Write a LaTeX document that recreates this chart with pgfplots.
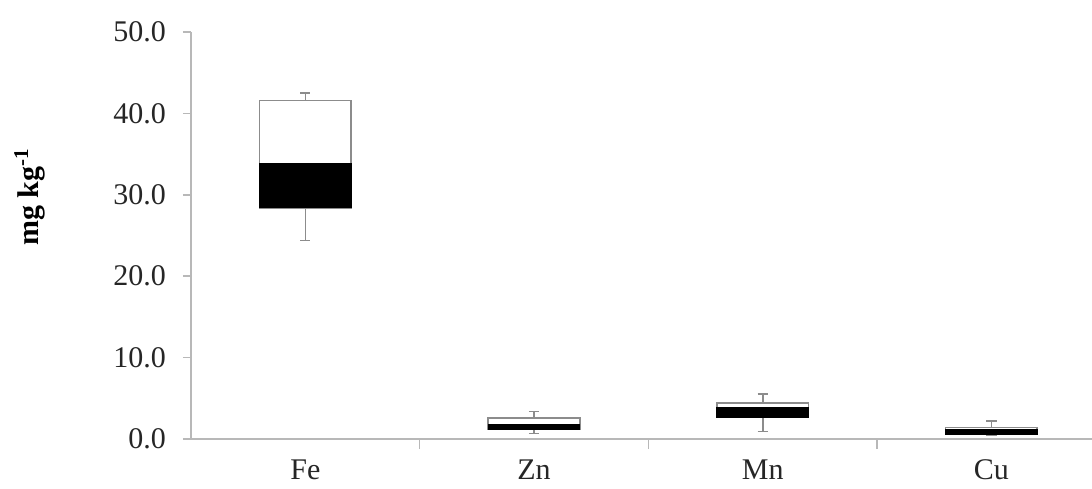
\documentclass[border=0pt]{standalone}
\usepackage{fontspec}
\setmainfont{Liberation Serif}
\usepackage{pgfplots}
\pgfplotsset{compat=1.18}
\usepgfplotslibrary{statistics}
\definecolor{axgray}{gray}{0.72}
\definecolor{boxgray}{gray}{0.55}
\begin{document}
\begin{tikzpicture}
\begin{axis}[
  scale only axis, width=450.5pt, height=203.5pt,
  xmin=-0.5, xmax=3.44, ymin=0, ymax=50,
  axis x line*=bottom, axis y line*=left,
  axis line style={axgray, line width=0.8pt},
  tick align=outside,
  xtick={0,1,2,3}, xticklabels={Fe,Zn,Mn,Cu},
  major x tick style={draw=none},
  minor xtick={0.5,1.5,2.5},
  minor x tick style={axgray, line width=0.8pt},
  minor tick length=5pt,
  ytick={0,10,20,30,40,50},
  y tick style={axgray, line width=0.8pt},
  major tick length=4pt,
  ticklabel style={font=\fontsize{15}{18}\selectfont, text=black!85},
  xticklabel style={yshift=-3pt},
  yticklabel style={xshift=-5pt},
  /pgf/number format/.cd, fixed, fixed zerofill, precision=1, assume math mode=true,
  /pgfplots/.cd,
  ylabel={\textbf{mg kg\textsuperscript{-1}}},
  ylabel style={font=\fontsize{15}{18}\selectfont, at={(axis description cs:-0.179,0.595)}, anchor=center},
  boxplot/draw direction=y,
  boxplot/box extend=0.40,
  boxplot/whisker extend=0.045,
  boxplot/every whisker/.style={draw=boxgray, line width=0.8pt},
  boxplot/draw/median/.code={},
  boxplot/draw/box/.code={%
    \draw[draw=boxgray, fill=white, line width=0.8pt] (boxplot box cs:\pgfplotsboxplotvalue{lower quartile},0) rectangle (boxplot box cs:\pgfplotsboxplotvalue{upper quartile},1);
    \draw[draw=black, fill=black, line width=0.6pt] (boxplot box cs:\pgfplotsboxplotvalue{lower quartile},0) rectangle (boxplot box cs:\pgfplotsboxplotvalue{median},1);
  },
]
\addplot[boxplot prepared={draw position=0, lower whisker=24.4, lower quartile=28.4, median=33.8, upper quartile=41.6, upper whisker=42.5}] coordinates {};
\addplot[boxplot prepared={draw position=1, lower whisker=0.7, lower quartile=1.2, median=1.8, upper quartile=2.6, upper whisker=3.4}] coordinates {};
\addplot[boxplot prepared={draw position=2, lower whisker=0.9, lower quartile=2.7, median=3.9, upper quartile=4.4, upper whisker=5.5}] coordinates {};
\addplot[boxplot prepared={draw position=3, lower whisker=0.5, lower quartile=0.6, median=1.2, upper quartile=1.4, upper whisker=2.2}] coordinates {};
\coordinate (ll) at (rel axis cs:0,0);
\coordinate (ur) at (rel axis cs:1,1);
\end{axis}
\pgfresetboundingbox
\path ([shift={(-95.5pt,-24.5pt)}]ll) rectangle ([shift={(0pt,16pt)}]ur);
\end{tikzpicture}
\end{document}
